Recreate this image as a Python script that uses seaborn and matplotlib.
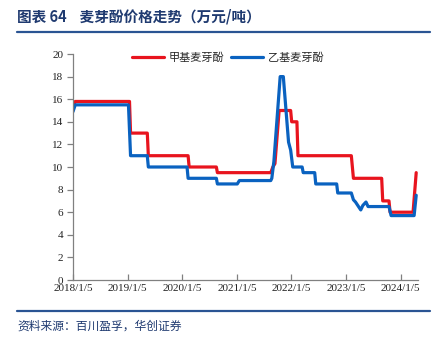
import matplotlib
matplotlib.use("Agg")
import matplotlib.pyplot as plt
import matplotlib.lines as mlines
import pandas as pd
import seaborn as sns

# 甲基麦芽酚 price series (万元/吨)
methyl_dates = [
    "2018-01-05", "2018-01-20", "2019-01-18", "2019-01-25", "2019-05-17",
    "2019-05-24", "2020-02-14", "2020-02-21", "2020-08-21", "2020-08-28",
    "2021-08-20", "2021-09-03", "2021-09-17", "2021-10-15", "2021-12-31",
    "2022-01-07", "2022-02-11", "2022-02-18", "2023-02-10", "2023-02-24",
    "2023-09-01", "2023-09-08", "2023-10-20", "2023-10-27", "2024-03-29",
    "2024-04-19",
]
methyl_values = [
    15.3, 15.8, 15.8, 13.0, 13.0,
    11.0, 11.0, 10.0, 10.0, 9.5,
    9.5, 10.0, 10.3, 15.0, 15.0,
    14.0, 14.0, 11.0, 11.0, 9.0,
    9.0, 7.0, 7.0, 6.0, 6.0,
    9.5,
]

# 乙基麦芽酚 price series (万元/吨)
ethyl_dates = [
    "2018-01-05", "2018-01-20", "2019-01-11", "2019-01-25", "2019-05-17",
    "2019-05-24", "2020-02-07", "2020-02-14", "2020-08-21", "2020-08-28",
    "2021-01-08", "2021-01-22", "2021-08-20", "2021-08-27", "2021-09-10",
    "2021-10-22", "2021-11-12", "2021-12-17", "2021-12-31", "2022-01-14",
    "2022-03-18", "2022-03-25", "2022-06-10", "2022-06-17", "2022-11-04",
    "2022-11-11", "2023-02-10", "2023-02-24", "2023-03-10", "2023-04-14",
    "2023-04-28", "2023-05-19", "2023-06-02", "2023-10-20", "2023-11-03",
    "2024-04-05", "2024-04-19",
]
ethyl_values = [
    14.9, 15.5, 15.5, 11.0, 11.0,
    10.0, 10.0, 9.0, 9.0, 8.5,
    8.5, 8.8, 8.8, 9.0, 10.5,
    18.0, 18.0, 12.2, 11.5, 10.0,
    10.0, 9.5, 9.5, 8.5, 8.5,
    7.7, 7.7, 7.1, 6.9, 6.2,
    6.6, 6.9, 6.5, 6.5, 5.7,
    5.7, 7.5,
]

series_names = ["甲基麦芽酚", "乙基麦芽酚"]
series_colors = ["#E8141E", "#0A62C0"]
tick_dates = ["2018-01-05", "2019-01-05", "2020-01-05", "2021-01-05",
              "2022-01-05", "2023-01-05", "2024-01-05"]
tick_labels = ["2018/1/5", "2019/1/5", "2020/1/5", "2021/1/5",
               "2022/1/5", "2023/1/5", "2024/1/5"]
y_ticks = [0, 2, 4, 6, 8, 10, 12, 14, 16, 18, 20]

title_text = "图表 64    麦芽酚价格走势（万元/吨）"
source_text = "资料来源：百川盈孚，华创证券"

df = pd.concat([
    pd.DataFrame({"date": pd.to_datetime(methyl_dates), "price": methyl_values,
                  "series": series_names[0]}),
    pd.DataFrame({"date": pd.to_datetime(ethyl_dates), "price": ethyl_values,
                  "series": series_names[1]}),
], ignore_index=True)

sns.set_theme(style="ticks")
plt.rcParams["font.family"] = ["Noto Sans CJK SC", "DejaVu Sans"]

W, H = 442, 346
fig = plt.figure(figsize=(W / 100, H / 100), dpi=100)
fig.patch.set_facecolor("white")

# plot area in pixel terms
left, right, top, bottom = 73, 418, 54, 280
ax = fig.add_axes([left / W, (H - bottom) / H, (right - left) / W, (bottom - top) / H])

sns.lineplot(data=df, x="date", y="price", hue="series", hue_order=series_names,
             palette=series_colors, estimator=None, sort=True, linewidth=2.3,
             legend=False, ax=ax)

ax.set_ylim(0, 20)
ax.set_xlim(pd.Timestamp("2018-01-05"), pd.Timestamp("2024-05-01"))
ax.set_yticks(y_ticks)
ax.set_yticklabels([str(v) for v in y_ticks], family="Liberation Serif", fontsize=8)
ax.set_xticks(pd.to_datetime(tick_dates))
ax.set_xticklabels(tick_labels, family="Liberation Serif", fontsize=8)
ax.set_xlabel("")
ax.set_ylabel("")
ax.grid(False)
for side in ("top", "right"):
    ax.spines[side].set_visible(False)
for side in ("left", "bottom"):
    ax.spines[side].set_color("#808080")
    ax.spines[side].set_linewidth(0.9)
ax.tick_params(axis="y", direction="out", length=4, width=0.9, color="#808080",
               pad=3, labelcolor="#222222")
ax.tick_params(axis="x", direction="in", length=4, width=0.9, color="#808080",
               pad=3, labelcolor="#222222")

handles = [mlines.Line2D([], [], color=c, linewidth=2.3) for c in series_colors]
ax.legend(handles, series_names, loc="center", bbox_to_anchor=(0.448, 0.985),
          ncol=2, frameon=False, handlelength=2.9, handletextpad=0.4,
          columnspacing=0.6, prop={"family": ["Noto Sans CJK SC"], "size": 8})

navy = "#1F3A70"
fig.text(17 / W, 1 - 17 / H, title_text, fontsize=10.5, fontweight="bold",
         color=navy, va="center", ha="left")
fig.add_artist(mlines.Line2D([17 / W, 430 / W], [1 - 32 / H, 1 - 32 / H],
                             color="#2A5493", linewidth=1.6))
fig.add_artist(mlines.Line2D([17 / W, 430 / W], [1 - 311 / H, 1 - 311 / H],
                             color="#2A5493", linewidth=1.6))
fig.text(17 / W, 1 - 326 / H, source_text, fontsize=8.5, color=navy,
         va="center", ha="left")

fig.savefig("out.png", dpi=100)
